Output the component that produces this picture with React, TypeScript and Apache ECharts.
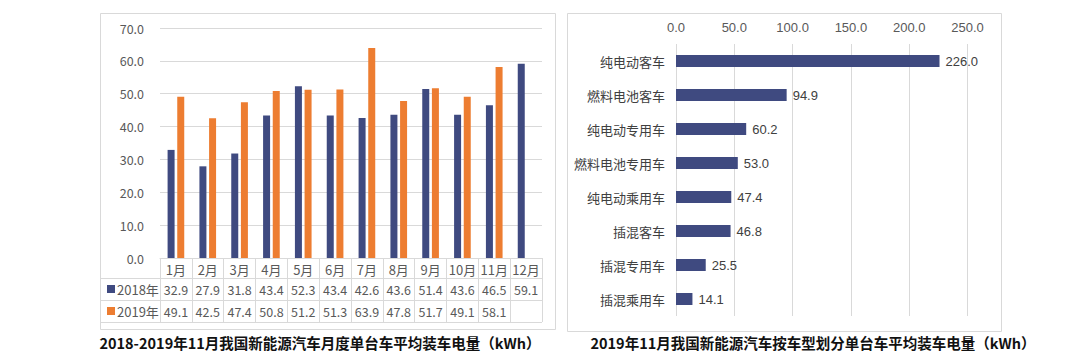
import React, { useEffect, useRef } from "react";
import * as echarts from "echarts";

const months = ["1月", "2月", "3月", "4月", "5月", "6月", "7月", "8月", "9月", "10月", "11月", "12月"];
const s2018 = [32.9, 27.9, 31.8, 43.4, 52.3, 43.4, 42.6, 43.6, 51.4, 43.6, 46.5, 59.1];
const s2019: (number | null)[] = [49.1, 42.5, 47.4, 50.8, 51.2, 51.3, 63.9, 47.8, 51.7, 49.1, 58.1, null];

const vehicleTypes = ["纯电动客车", "燃料电池客车", "纯电动专用车", "燃料电池专用车", "纯电动乘用车", "插混客车", "插混专用车", "插混乘用车"];
const vehicleValues = [226.0, 94.9, 60.2, 53.0, 47.4, 46.8, 25.5, 14.1];

const titleLeft = "2018-2019年11月我国新能源汽车月度单台车平均装车电量（kWh）";
const titleRight = "2019年11月我国新能源汽车按车型划分单台车平均装车电量（kWh）";

const NAVY = "#3f4a80";
const ORANGE = "#ed7d31";
const GRID = "#d9d9d9";
const TXT = "#595959";
const FONT = "'Noto Sans CJK SC', sans-serif";

export default function App() {
  const ref = useRef<HTMLDivElement>(null);
  useEffect(() => {
    if (!ref.current) return;
    const chart = echarts.init(ref.current, null, { renderer: "svg" });
    const fmt = (v: number | null) => (v == null ? "" : v.toFixed(1));
    const rowAxis = (vals: (number | null)[], offset: number) => ({
      type: "category",
      gridIndex: 0,
      position: "bottom",
      offset,
      data: vals.map(fmt),
      axisLine: { show: false },
      axisTick: { show: false },
      splitLine: { show: false },
      axisLabel: { interval: 0, margin: 4, fontSize: 12.5, color: TXT, fontFamily: FONT },
    });
    chart.setOption({
      animation: false,
      textStyle: { fontFamily: FONT },
      legend: {
        orient: "vertical",
        left: 102,
        top: 277,
        itemWidth: 8,
        itemHeight: 8,
        itemGap: 8,
        icon: "rect",
        data: ["2018年", "2019年"],
        textStyle: { fontSize: 13, color: TXT, lineHeight: 14, padding: [0, 0, 0, -3] },
      },
      grid: [
        { left: 160, top: 28, width: 382, height: 230 },
        { left: 676, top: 44, width: 291.5, height: 272 },
      ],
      xAxis: [
        {
          type: "category",
          gridIndex: 0,
          data: months,
          axisLine: { show: true, lineStyle: { color: GRID } },
          axisTick: { show: true, length: 64, alignWithLabel: false, interval: 0, lineStyle: { color: GRID } },
          axisLabel: { interval: 0, margin: 5, fontSize: 13, color: TXT },
        },
        rowAxis(s2018, 21),
        rowAxis(s2019, 43),
        {
          type: "value",
          gridIndex: 1,
          position: "top",
          min: 0,
          max: 250,
          interval: 50,
          axisLine: { show: false },
          axisTick: { show: false },
          splitLine: { lineStyle: { color: GRID } },
          axisLabel: { margin: 10, fontSize: 13, color: TXT, fontFamily: "'Liberation Sans', Arial, sans-serif", formatter: (v: number) => v.toFixed(1) },
        },
      ],
      yAxis: [
        {
          type: "value",
          gridIndex: 0,
          min: 0,
          max: 70,
          interval: 10,
          axisLine: { show: false },
          axisTick: { show: false },
          splitLine: { lineStyle: { color: GRID } },
          axisLabel: { margin: 16, fontSize: 12.5, color: TXT, formatter: (v: number) => v.toFixed(1) },
        },
        {
          type: "category",
          gridIndex: 1,
          inverse: true,
          data: vehicleTypes,
          axisLine: { show: false },
          axisTick: { show: false },
          axisLabel: { margin: 11, fontSize: 13, color: "#404040" },
        },
      ],
      series: [
        {
          name: "2018年",
          type: "bar",
          xAxisIndex: 0,
          yAxisIndex: 0,
          data: s2018,
          barWidth: 7,
          barGap: "38%",
          itemStyle: { color: NAVY },
        },
        {
          name: "2019年",
          type: "bar",
          xAxisIndex: 0,
          yAxisIndex: 0,
          data: s2019,
          barWidth: 7,
          barGap: "38%",
          itemStyle: { color: ORANGE },
        },
        {
          name: "车型",
          type: "bar",
          xAxisIndex: 3,
          yAxisIndex: 1,
          data: vehicleValues,
          barWidth: 12,
          itemStyle: { color: NAVY },
          label: {
            show: true,
            position: "right",
            distance: 6,
            fontSize: 13,
            color: "#404040",
            fontFamily: "'Liberation Sans', Arial, sans-serif",
            formatter: (p: any) => Number(p.value).toFixed(1),
          },
        },
      ],
      graphic: [
        { type: "rect", shape: { x: 100.5, y: 13.5, width: 455, height: 316 }, style: { fill: "none", stroke: GRID, lineWidth: 1 }, silent: true },
        { type: "rect", shape: { x: 567.5, y: 13.5, width: 434, height: 318 }, style: { fill: "none", stroke: GRID, lineWidth: 1 }, silent: true },
        { type: "line", shape: { x1: 100, y1: 278.5, x2: 542, y2: 278.5 }, style: { stroke: GRID, lineWidth: 1 } },
        { type: "line", shape: { x1: 100, y1: 300.5, x2: 542, y2: 300.5 }, style: { stroke: GRID, lineWidth: 1 } },
        { type: "line", shape: { x1: 100, y1: 322.5, x2: 542, y2: 322.5 }, style: { stroke: GRID, lineWidth: 1 } },
        {
          type: "text",
          x: 320,
          y: 342,
          style: { text: titleLeft, fill: "#111", align: "center", verticalAlign: "middle", font: "bold 14.5px 'Noto Sans CJK SC', sans-serif" },
        },
        {
          type: "text",
          x: 813,
          y: 342,
          style: { text: titleRight, fill: "#111", align: "center", verticalAlign: "middle", font: "bold 14.5px 'Noto Sans CJK SC', sans-serif" },
        },
      ],
    });
    return () => chart.dispose();
  }, []);
  return <div ref={ref} style={{ position: "absolute", left: 0, top: 0, width: 1080, height: 351, background: "#fff" }} />;
}
